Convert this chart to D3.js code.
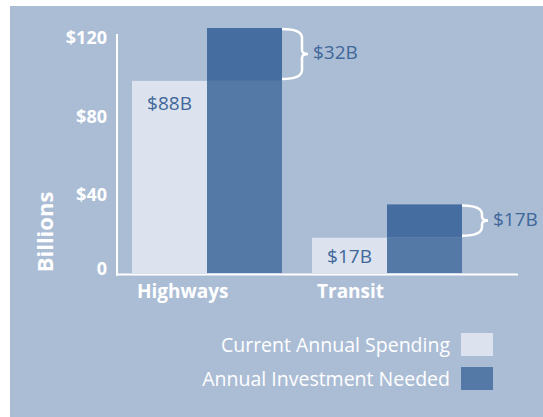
<!DOCTYPE html>
<html>
<head>
<meta charset="utf-8">
<script src="https://cdn.jsdelivr.net/npm/d3@7.9.0/dist/d3.min.js"></script>
<style>
  body { margin: 0; background: #fff; }
  svg { display: block; font-family: 'Open Sans', sans-serif; }
</style>
</head>
<body>
<svg id="chart" width="543" height="417"></svg>
<script>
// data
const categories = ['Highways', 'Transit'];
const currentSpending = [98, 18];     // bar heights as drawn
const investmentNeeded = [125, 35];
const currentLabels = ['$88B', '$17B'];
const gapLabels = ['$32B', '$17B'];
const yTicks = [0, 40, 80, 120];
const legendLabels = ['Current Annual Spending', 'Annual Investment Needed'];

const bg = '#abbdd5';
const lightBar = '#dce3ee';
const midBar = '#5579a7';
const darkBar = '#456d9f';
const labelBlue = '#3f6799';

const svg = d3.select('#chart');

svg.append('rect')
  .attr('x', 10).attr('y', 6)
  .attr('width', 533).attr('height', 411)
  .attr('fill', bg);

const x = d3.scaleBand().domain(categories).range([132, 462]).paddingInner(30 / 180);
const xs = d3.scaleBand().domain(['current', 'needed']).range([0, x.bandwidth()]);
const y = d3.scaleLinear().domain([0, 120]).range([273, 37.8]);

const rows = categories.map((c, i) => ({
  cat: c,
  current: currentSpending[i],
  needed: investmentNeeded[i],
  curLabel: currentLabels[i],
  gapLabel: gapLabels[i]
}));

const g = svg.selectAll('g.group')
  .data(rows)
  .join('g')
  .attr('class', 'group')
  .attr('transform', d => `translate(${x(d.cat)},0)`);

// current spending
g.append('rect')
  .attr('x', xs('current'))
  .attr('y', d => y(d.current))
  .attr('width', xs.bandwidth())
  .attr('height', d => y(0) - y(d.current))
  .attr('fill', lightBar);

// needed: lower part and the gap on top
g.append('rect')
  .attr('x', xs('needed'))
  .attr('y', d => y(d.current))
  .attr('width', xs.bandwidth())
  .attr('height', d => y(0) - y(d.current))
  .attr('fill', midBar);
g.append('rect')
  .attr('x', xs('needed'))
  .attr('y', d => y(d.needed))
  .attr('width', xs.bandwidth())
  .attr('height', d => y(d.current) - y(d.needed))
  .attr('fill', darkBar);

// label inside current bar
g.append('text')
  .attr('x', xs('current') + xs.bandwidth() / 2)
  .attr('y', d => d.current > 40 ? y(d.current) + 22 : y(d.current) + (y(0) - y(d.current)) / 2 + 1)
  .attr('dy', '0.36em')
  .attr('text-anchor', 'middle')
  .attr('fill', labelBlue)
  .style('font-size', '19px')
  .text(d => d.curLabel);

// brace to the right of the needed bar
function brace(x0, top, bottom) {
  const w = 20, r = 9, nub = 6;
  const mid = (top + bottom) / 2;
  const x1 = x0 + w;
  return `M${x0},${top} Q${x1},${top} ${x1},${top + r} L${x1},${mid - 4} Q${x1},${mid} ${x1 + nub},${mid}` +
    ` Q${x1},${mid} ${x1},${mid + 4} L${x1},${bottom - r} Q${x1},${bottom} ${x0},${bottom}`;
}
g.append('path')
  .attr('d', d => brace(x.bandwidth(), y(d.needed) + 1, y(d.current) - 2))
  .attr('fill', 'none')
  .attr('stroke', '#fff')
  .attr('stroke-width', 2.5);
g.append('text')
  .attr('x', x.bandwidth() + 31)
  .attr('y', d => (y(d.needed) + y(d.current)) / 2 - 2)
  .attr('dy', '0.36em')
  .attr('fill', labelBlue)
  .style('font-size', '19px')
  .text(d => d.gapLabel);

// category labels
g.append('text')
  .attr('x', 5)
  .attr('y', 298)
  .attr('fill', '#fff')
  .style('font-size', '19px')
  .style('font-weight', 700)
  .text(d => d.cat);

// axes
const axisX = 117;
svg.append('line')
  .attr('x1', axisX).attr('x2', axisX)
  .attr('y1', y(122)).attr('y2', y(0) + 2.5)
  .attr('stroke', '#fff').attr('stroke-width', 2);
svg.append('line')
  .attr('x1', axisX - 1).attr('x2', 518)
  .attr('y1', y(0) + 1.5).attr('y2', y(0) + 1.5)
  .attr('stroke', '#fff').attr('stroke-width', 2);

const yAxis = svg.append('g')
  .attr('transform', `translate(${axisX},0)`)
  .call(d3.axisLeft(y).tickValues(yTicks).tickSize(0).tickPadding(10)
    .tickFormat(d => d === 0 ? '0' : '$' + d));
yAxis.select('.domain').remove();
yAxis.selectAll('text')
  .attr('fill', '#fff')
  .attr('dy', d => d === 0 ? '0.07em' : '0.34em')
  .style('font-family', "'Open Sans', sans-serif")
  .style('font-size', '18px')
  .style('font-weight', 700);

svg.append('text')
  .attr('transform', 'translate(45,232) rotate(-90)')
  .attr('text-anchor', 'middle')
  .attr('dy', '0.35em')
  .attr('fill', '#fff')
  .style('font-size', '22px')
  .style('font-weight', 700)
  .text('Billions');

// legend
const legendColors = [lightBar, midBar];
const leg = svg.selectAll('g.legend')
  .data(legendLabels)
  .join('g')
  .attr('class', 'legend')
  .attr('transform', (d, i) => `translate(461,${333 + i * 34})`);
leg.append('rect')
  .attr('width', 32).attr('height', 23)
  .attr('fill', (d, i) => legendColors[i]);
leg.append('text')
  .attr('x', -11)
  .attr('y', 12)
  .attr('dy', '0.35em')
  .attr('text-anchor', 'end')
  .attr('fill', '#fff')
  .style('font-size', '19.5px')
  .text(d => d);
</script>
</body>
</html>
